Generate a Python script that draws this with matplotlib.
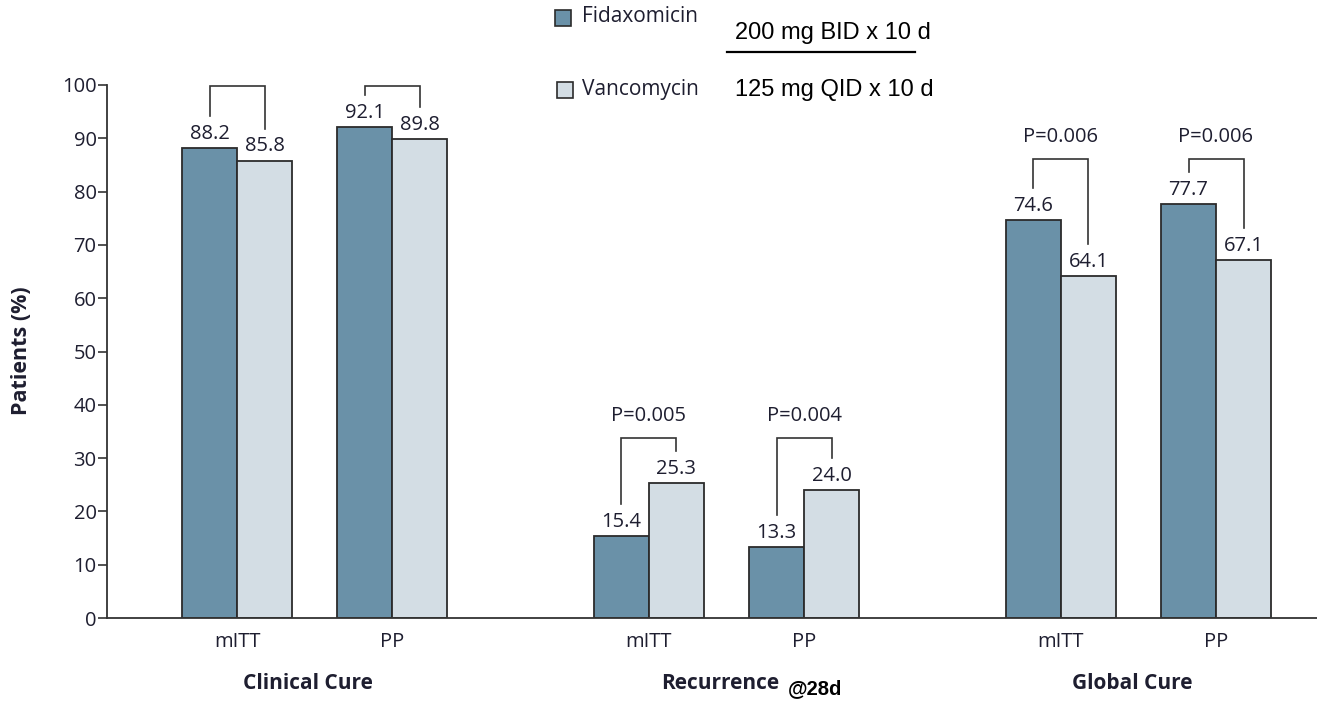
import matplotlib
matplotlib.use('Agg')
import matplotlib.pyplot as plt
from matplotlib.patches import Rectangle
from matplotlib.lines import Line2D
from matplotlib.transforms import blended_transform_factory

# data
groups = ['Clinical Cure', 'Recurrence', 'Global Cure']
subsets = ['mITT', 'PP']
fidaxomicin = [88.2, 92.1, 15.4, 13.3, 74.6, 77.7]
vancomycin = [85.8, 89.8, 25.3, 24.0, 64.1, 67.1]
p_values = [None, None, 'P=0.005', 'P=0.004', 'P=0.006', 'P=0.006']
fid_dose = '200 mg BID x 10 d'
van_dose = '125 mg QID x 10 d'

C_FID = '#6a91a8'
C_VAN = '#d3dde4'
EDGE = '#2b2b2b'
TXT = '#1e1e30'
plt.rcParams['font.family'] = ['Open Sans', 'DejaVu Sans']

fig = plt.figure(figsize=(13.17, 7.01), dpi=100)
W, H = 1317, 701
ax = fig.add_axes([107 / W, 1 - 618 / H, (W - 107) / W, (618 - 85) / H])

# pair centres: groups 7.5 units apart, subsets 2.82 apart, bar width 1
centres = []
for g in range(len(groups)):
    for s in range(len(subsets)):
        centres.append(g * 7.49 + s * 2.82)

for i, c in enumerate(centres):
    f, v = fidaxomicin[i], vancomycin[i]
    ax.bar(c - 0.5, f, width=1, color=C_FID, edgecolor=EDGE, linewidth=1.3)
    ax.bar(c + 0.5, v, width=1, color=C_VAN, edgecolor=EDGE, linewidth=1.3)
    ax.text(c - 0.5, f + 0.8, f'{f:.1f}', ha='center', va='bottom', fontsize=14.5, color=TXT)
    ax.text(c + 0.5, v + 0.8, f'{v:.1f}', ha='center', va='bottom', fontsize=14.5, color=TXT)

# brackets
for g in range(len(groups)):
    gmax = max(fidaxomicin[2 * g:2 * g + 2] + vancomycin[2 * g:2 * g + 2])
    top = min(gmax + 8.5, 99.8)
    for s in range(2):
        i = 2 * g + s
        c = centres[i]
        f, v = fidaxomicin[i], vancomycin[i]
        ax.plot([c - 0.5, c - 0.5, c + 0.5, c + 0.5],
                [f + 6.0, top, top, v + 6.0],
                color='#333333', lw=1.2, clip_on=False, solid_joinstyle='miter')
        if p_values[i]:
            ax.text(c, top + 2.2, p_values[i], ha='center', va='bottom',
                    fontsize=14.5, color=TXT)

ax.set_xlim((107 - 237) / 55, (W - 237) / 55)
ax.set_ylim(0, 100)
ax.set_yticks(range(0, 101, 10))
ax.tick_params(axis='y', direction='out', length=6.5, width=1.2, colors='#333333',
               labelsize=14.5, labelcolor=TXT, pad=1)
ax.set_xticks([])
for side in ['top', 'right']:
    ax.spines[side].set_visible(False)
for side in ['left', 'bottom']:
    ax.spines[side].set_linewidth(1.3)
    ax.spines[side].set_color('#333333')

trans = blended_transform_factory(ax.transData, ax.transAxes)
for i, c in enumerate(centres):
    ax.text(c, -0.045, subsets[i % 2], transform=trans, ha='center', va='center',
            fontsize=14.5, color=TXT)
for g in range(len(groups)):
    gc = (centres[2 * g] + centres[2 * g + 1]) / 2
    ax.text(gc - 0.12, -0.123, groups[g], transform=trans, ha='center', va='center',
            fontsize=15, fontweight='bold', color=TXT)

fig.text(815 / W, 1 - 689 / H, '@28d', family='Liberation Sans', fontweight='bold',
         fontsize=14.5, ha='center', va='center', color='black')

fig.text(22 / W, 1 - 351 / H, 'Patients (%)', rotation=90, ha='center', va='center',
         fontsize=15.5, fontweight='bold', color=TXT)

# legend
fig.patches.append(Rectangle((555 / W, 1 - 26 / H), 16 / W, 16 / H, transform=fig.transFigure,
                             facecolor=C_FID, edgecolor=EDGE, lw=1.2))
fig.patches.append(Rectangle((557 / W, 1 - 98 / H), 16 / W, 16 / H, transform=fig.transFigure,
                             facecolor=C_VAN, edgecolor=EDGE, lw=1.2))
fig.text(582 / W, 1 - 17 / H, 'Fidaxomicin', ha='left', va='center', fontsize=15, color=TXT)
fig.text(582 / W, 1 - 89 / H, 'Vancomycin', ha='left', va='center', fontsize=15, color=TXT)
fig.text(735 / W, 1 - 33 / H, fid_dose, family='Liberation Sans', fontsize=17,
         ha='left', va='center', color='black')
fig.text(735 / W, 1 - 90 / H, van_dose, family='Liberation Sans', fontsize=17,
         ha='left', va='center', color='black')
fig.lines.append(Line2D([727 / W, 915 / W], [1 - 52 / H, 1 - 52 / H],
                        transform=fig.transFigure, color='black', lw=1.6))

fig.savefig('out.png', dpi=100)
